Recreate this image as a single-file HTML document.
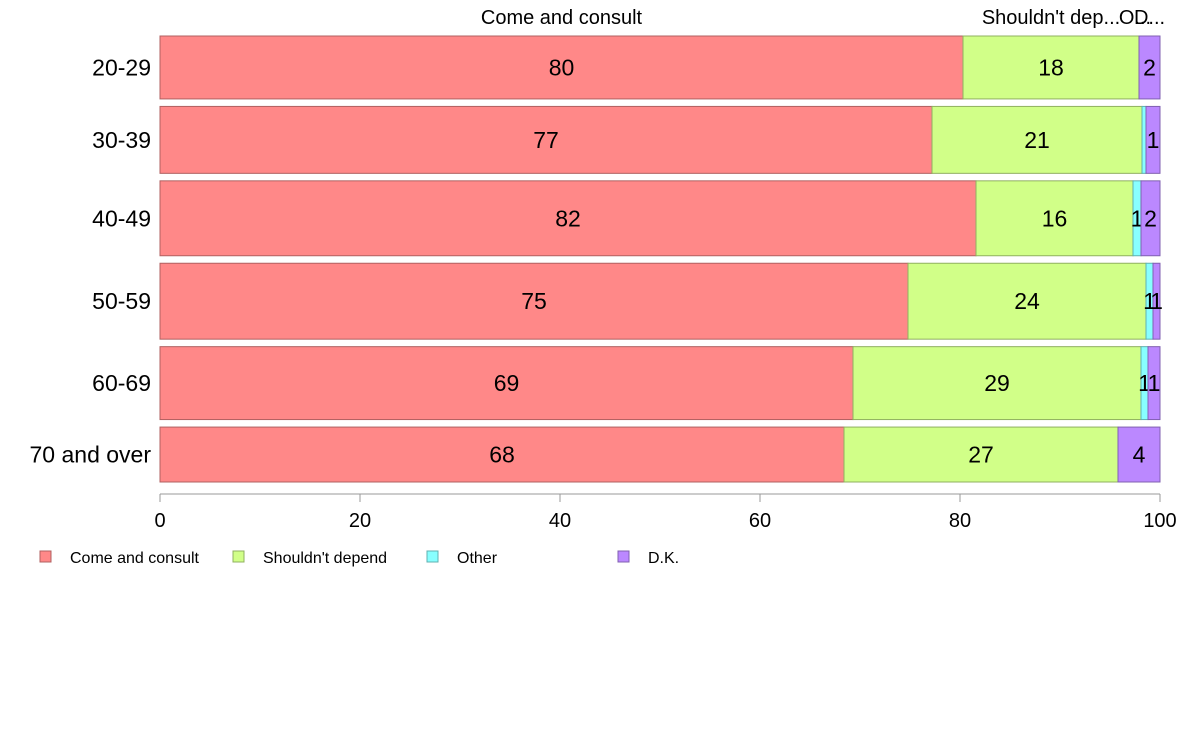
<!DOCTYPE html>
<html><head><meta charset="utf-8"><style>
body{margin:0;background:#fff;font-family:"Liberation Sans",Arial,sans-serif}
svg text{font-family:"Liberation Sans",Arial,sans-serif}
</style></head><body>
<svg id="chart" width="1188" height="736" xmlns="http://www.w3.org/2000/svg"></svg>
<script>
const categories = ["20-29","30-39","40-49","50-59","60-69","70 and over"];
const seriesNames = ["Come and consult","Shouldn't depend","Other","D.K."];
const comeAndConsult = [80.3, 77.2, 81.6, 74.8, 69.3, 68.4];
const shouldntDepend = [17.6, 21.0, 15.7, 23.8, 28.8, 27.4];
const other = [0.0, 0.4, 0.8, 0.7, 0.7, 0.0];
const dk = [2.1, 1.4, 1.9, 0.7, 1.2, 4.2];
const sampleSize = [63, 67, 75, 76, 73, 55];
const xTicks = [0, 20, 40, 60, 80, 100];
const topLabels = ["Come and consult","Shouldn't dep...","O...","D..."];

const colors = ["#ff8888","#d1ff88","#88ffff","#bb88ff"];
const strokes = ["#b06060","#90b060","#60b0b0","#8060b0"];
const series = [comeAndConsult, shouldntDepend, other, dk];
const svg = document.getElementById('chart');
const NS = "http://www.w3.org/2000/svg";
const X0 = 160, X1 = 1160, YTOP = 36, YBOT = 482, GAP = 7.5;
const x = v => X0 + (v / 100) * (X1 - X0);
const totalN = sampleSize.reduce((a, b) => a + b, 0);
const avail = (YBOT - YTOP) - GAP * (categories.length - 1);
function mk(tag, attrs, text) {
  const e = document.createElementNS(NS, tag);
  for (const k in attrs) e.setAttribute(k, attrs[k]);
  if (text !== undefined) e.textContent = text;
  svg.appendChild(e);
  return e;
}
let y = YTOP;
categories.forEach((cat, i) => {
  const h = avail * sampleSize[i] / totalN;
  const lab = mk('text', {x: 151, y: y + h / 2 + 8, 'text-anchor': 'end', 'font-size': 23, fill: '#000'}, cat);
  
  
  let cum = 0;
  series.forEach((s, j) => {
    const v = s[i];
    const r = mk('rect', {x: x(cum), y: y, width: x(cum + v) - x(cum), height: h, fill: colors[j], stroke: strokes[j], 'stroke-width': 1});
    
    
    const rv = Math.round(v);
    if (rv >= 1) {
      const t = mk('text', {x: (x(cum) + x(cum + v)) / 2, y: y + h / 2 + 8, 'text-anchor': 'middle', 'font-size': 23, fill: '#000'}, String(rv));
      
      
    }
    cum += v;
  });
  y += h + GAP;
});
// top labels over first row
let c0 = 0;
series.forEach((s, j) => {
  const v = s[0];
  let cx = (x(c0) + x(c0 + v)) / 2;
  if (j === 2) cx = 1135;
  const t = mk('text', {x: cx, y: 24, 'text-anchor': 'middle', 'font-size': 20, fill: '#000'}, topLabels[j]);
  
  
  c0 += v;
});
// axis
const ax = mk('line', {x1: X0, x2: X1, y1: 494, y2: 494, stroke: '#999', 'stroke-width': 1});


xTicks.forEach(t => {
  const tk = mk('line', {x1: x(t), x2: x(t), y1: 494, y2: 502, stroke: '#999', 'stroke-width': 1});
  
  
  const tl = mk('text', {x: x(t), y: 527, 'text-anchor': 'middle', 'font-size': 20, fill: '#000'}, String(t));
  
  
});
// legend
const legX = [40, 233, 427, 618];
seriesNames.forEach((n, j) => {
  const sw = mk('rect', {x: legX[j], y: 551, width: 11, height: 11, fill: colors[j], stroke: strokes[j], 'stroke-width': 1});
  
  
  const lt = mk('text', {x: legX[j] + 30, y: 563, 'font-size': 16, fill: '#000'}, n);
  
  
});
</script>
</body></html>
